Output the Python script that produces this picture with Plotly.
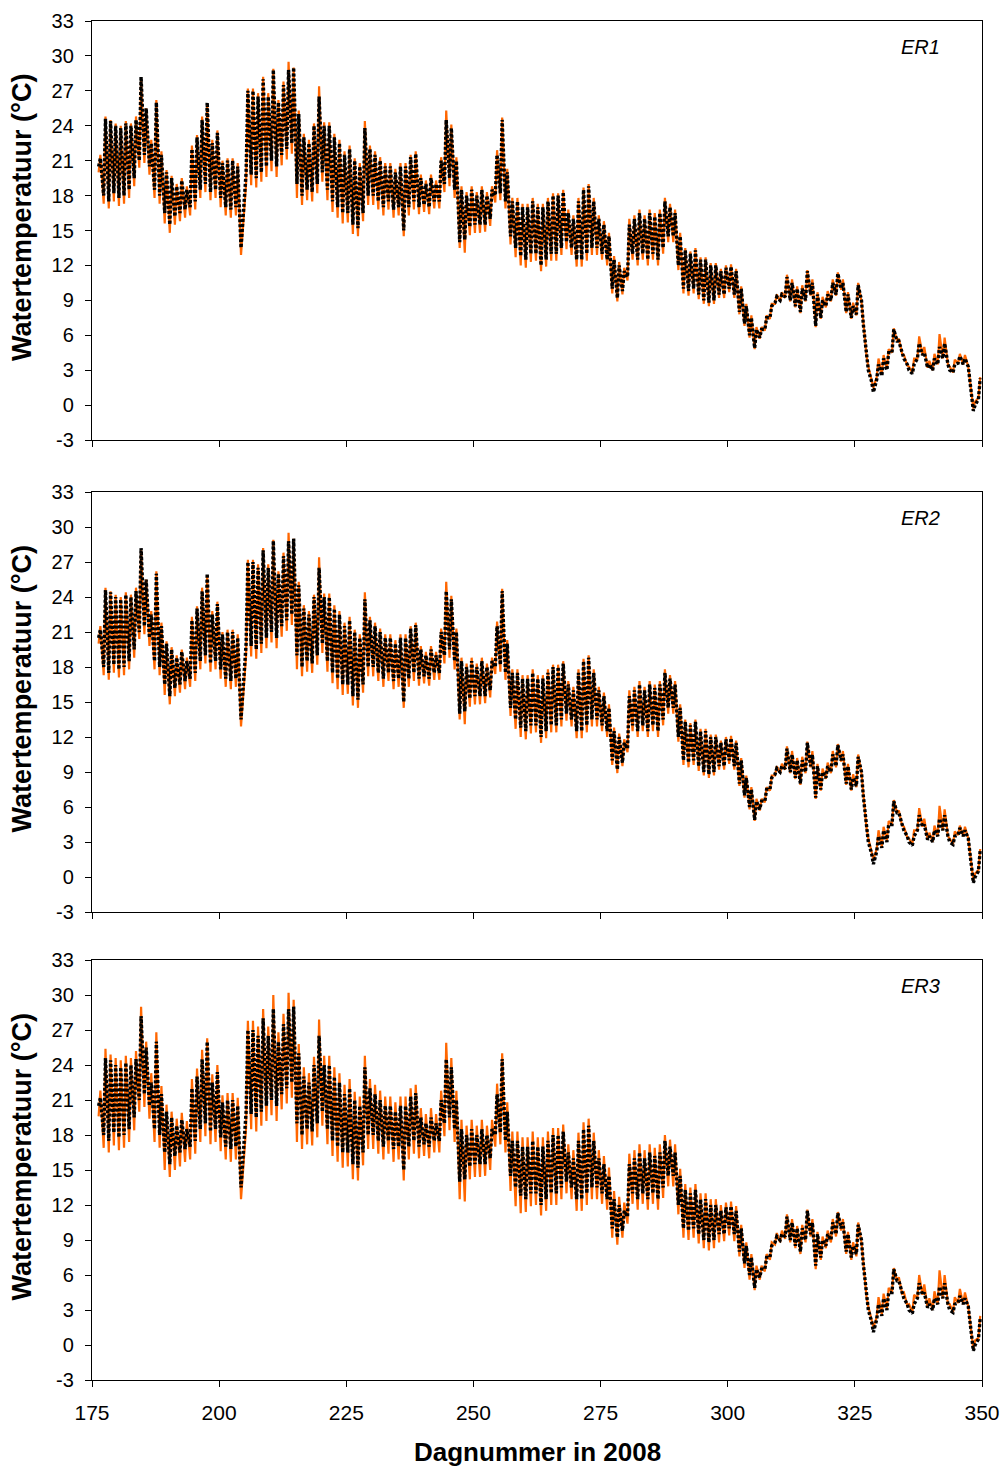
import plotly.graph_objects as go

# Day numbers (each day has an early (low) and a late (afternoon) reading)
days = list(range(176, 350))

# Black dotted series (shared look in all panels), early / late readings per day
black_am = [20.5, 18.0, 17.5, 18.2, 17.8, 18.0, 18.5, 19.5, 21.0, 21.5,
            20.5, 18.5, 18.0, 16.5, 15.5, 16.2, 16.5, 16.8, 17.0, 17.5,
            18.5, 19.0, 18.3, 18.5, 17.8, 17.0, 16.8, 17.0, 13.5, 20.0,
            19.8, 19.5, 20.0, 20.5, 21.0, 20.5, 21.5, 22.0, 22.5, 19.0,
            18.0, 18.5, 18.3, 19.0, 20.0, 18.5, 17.5, 17.0, 16.5, 16.5,
            15.5, 15.2, 16.5, 18.0, 18.0, 17.5, 17.0, 17.5, 16.8, 17.0,
            15.0, 17.0, 17.5, 17.0, 17.2, 17.0, 17.5, 17.5, 19.0, 19.5,
            18.5, 14.0, 14.2, 15.3, 15.5, 15.5, 15.5, 16.0, 18.0, 18.2,
            17.5, 14.5, 13.5, 12.8, 12.5, 13.0, 13.0, 12.0, 12.5, 13.0,
            13.0, 13.5, 14.0, 13.5, 12.5, 12.5, 13.0, 13.5, 13.5, 13.0,
            12.5, 10.0, 9.2, 9.8, 11.0, 13.0, 12.5, 13.0, 12.5, 13.0,
            12.5, 13.5, 14.5, 14.5, 12.0, 10.0, 9.8, 10.0, 9.5, 9.0,
            8.8, 9.0, 9.5, 9.5, 10.0, 9.5, 8.0, 7.0, 6.0, 4.9,
            5.8, 6.5, 7.5, 8.8, 9.0, 9.3, 9.0, 8.5, 8.0, 9.0,
            9.5, 6.8, 7.5, 8.5, 9.0, 9.5, 10.0, 8.0, 7.5, 7.8,
            9.0, 4.0, 2.0, 2.2, 2.5, 3.0, 4.5, 5.5, 4.5, 3.5,
            2.7, 4.0, 4.3, 3.2, 3.0, 3.5, 4.0, 3.5, 2.8, 3.6,
            3.5, 3.3, -0.5, 0.5]
black_pm = [21.2, 24.6, 24.4, 24.0, 23.8, 24.2, 24.0, 24.5, 28.2, 25.5,
            22.5, 26.0, 21.5, 20.0, 19.5, 18.8, 19.3, 18.5, 22.0, 23.0,
            24.5, 26.0, 22.5, 23.4, 20.8, 21.0, 21.0, 20.5, 15.5, 27.0,
            27.0, 26.5, 28.0, 26.5, 28.8, 26.0, 27.5, 28.8, 29.0, 25.0,
            23.0, 22.5, 24.0, 26.5, 24.0, 24.0, 23.0, 22.5, 21.5, 22.0,
            21.0, 20.5, 23.8, 22.0, 21.5, 21.0, 20.5, 20.5, 20.0, 20.5,
            20.5, 21.3, 21.6, 19.5, 19.0, 19.5, 19.0, 21.0, 24.5, 23.8,
            21.0, 18.5, 18.0, 18.5, 18.0, 18.5, 18.0, 18.5, 21.5, 24.5,
            20.0, 17.5, 17.5, 17.0, 17.0, 17.5, 17.0, 17.0, 17.5, 18.0,
            18.0, 18.3, 16.5, 16.0, 17.5, 18.5, 18.8, 17.5, 16.0, 15.5,
            14.5, 12.5, 12.0, 11.5, 15.5, 16.0, 16.5, 16.0, 16.5, 16.2,
            16.5, 17.5, 17.0, 16.5, 14.5, 13.3, 13.0, 13.3, 12.5, 12.5,
            12.0, 12.0, 11.5, 11.8, 11.9, 11.5, 10.0, 8.5, 7.5, 6.5,
            6.5, 7.5, 8.5, 9.3, 9.5, 11.0, 10.5, 10.0, 10.0, 11.5,
            10.5, 9.5, 9.0, 9.5, 10.5, 11.3, 10.5, 9.5, 8.5, 10.3,
            7.0, 3.0, 1.1, 3.5, 4.0, 4.5, 6.5, 5.5, 4.0, 3.0,
            3.5, 5.3, 4.5, 3.5, 4.0, 5.0, 5.3, 3.0, 3.5, 4.2,
            4.0, 1.8, 0.0, 2.3]

# Orange series, ER1 and ER2
orange_am = [20.0, 17.3, 16.9, 17.5, 17.1, 17.3, 17.8, 18.8, 20.4, 20.8,
             19.8, 17.8, 17.3, 15.6, 14.8, 15.5, 15.8, 16.1, 16.3, 16.8,
             17.8, 18.3, 17.6, 17.8, 17.0, 16.3, 16.1, 16.3, 12.9, 19.0,
             18.9, 18.7, 19.2, 19.6, 20.1, 19.6, 20.6, 21.1, 21.6, 17.8,
             17.2, 17.6, 17.5, 18.2, 19.2, 17.6, 16.6, 16.1, 15.6, 15.7,
             14.7, 14.5, 15.8, 17.2, 17.2, 16.8, 16.3, 16.8, 16.1, 16.3,
             14.5, 16.3, 16.8, 16.4, 16.6, 16.4, 16.9, 16.9, 18.3, 18.8,
             17.8, 13.5, 13.1, 14.6, 14.8, 14.8, 14.9, 15.4, 17.4, 17.6,
             16.9, 13.8, 12.7, 12.0, 11.8, 12.3, 12.4, 11.5, 11.9, 12.4,
             12.4, 12.9, 13.4, 12.9, 11.9, 11.9, 12.4, 12.9, 12.9, 12.5,
             12.0, 9.6, 8.9, 9.5, 10.7, 12.5, 12.0, 12.5, 12.0, 12.5,
             12.0, 13.0, 14.0, 14.0, 11.6, 9.6, 9.4, 9.6, 9.1, 8.7,
             8.5, 8.7, 9.2, 9.2, 9.7, 9.2, 7.8, 6.8, 5.8, 4.8,
             5.7, 6.4, 7.4, 8.7, 8.9, 9.2, 8.9, 8.4, 7.9, 8.9,
             9.4, 6.7, 7.4, 8.4, 8.9, 9.4, 9.9, 7.9, 7.4, 7.7,
             8.9, 4.2, 2.1, 2.4, 2.6, 3.1, 4.5, 5.5, 4.4, 3.4,
             2.8, 4.0, 4.3, 3.2, 3.0, 3.5, 4.0, 3.5, 2.8, 3.6,
             3.5, 3.3, -0.3, 0.6]
orange_pm = [21.5, 24.8, 24.5, 24.2, 24.0, 24.4, 24.2, 24.8, 28.0, 25.5,
             22.8, 26.2, 21.8, 20.2, 19.7, 19.0, 19.5, 18.8, 22.3, 23.2,
             24.8, 25.8, 22.8, 23.6, 21.0, 21.2, 21.2, 20.8, 15.0, 27.2,
             27.2, 26.8, 28.2, 26.8, 28.9, 26.2, 27.8, 29.5, 29.0, 25.3,
             23.3, 22.8, 24.2, 27.4, 24.3, 24.3, 23.3, 22.8, 21.8, 22.3,
             21.2, 20.8, 24.4, 22.3, 21.8, 21.3, 20.8, 20.8, 20.3, 20.8,
             20.8, 21.5, 21.8, 19.8, 19.3, 19.8, 19.3, 21.3, 25.3, 24.1,
             21.3, 18.8, 18.3, 18.8, 18.3, 18.8, 18.3, 18.8, 21.9, 24.7,
             20.3, 17.8, 17.8, 17.3, 17.3, 17.8, 17.3, 17.3, 17.8, 18.2,
             18.2, 18.5, 16.8, 16.3, 17.8, 18.7, 19.0, 17.8, 16.3, 15.8,
             14.8, 12.8, 12.3, 11.8, 16.0, 16.3, 16.8, 16.3, 16.8, 16.5,
             16.8, 17.8, 17.3, 16.8, 14.8, 13.5, 13.2, 13.5, 12.7, 12.7,
             12.2, 12.2, 11.7, 12.0, 12.1, 11.7, 10.2, 8.7, 7.7, 6.7,
             6.7, 7.7, 8.7, 9.5, 9.7, 11.2, 10.8, 10.2, 10.3, 11.6,
             10.8, 9.7, 9.3, 9.8, 10.8, 11.4, 10.8, 9.7, 8.8, 10.5,
             7.2, 3.3, 1.5, 4.0, 4.3, 4.8, 6.6, 5.7, 4.3, 3.3,
             4.0, 5.9, 5.0, 3.8, 4.4, 6.1, 5.8, 3.3, 3.9, 4.4,
             4.3, 2.0, 0.3, 2.4]

# Orange series, ER3
orange3_am = [19.6, 16.9, 16.5, 17.1, 16.7, 16.9, 17.4, 18.4, 20.0, 20.4,
              19.4, 17.4, 16.9, 15.0, 14.4, 15.0, 15.3, 15.7, 15.9, 16.4,
              17.4, 17.9, 17.2, 17.4, 16.6, 15.9, 15.7, 15.9, 12.5, 18.6,
              18.5, 18.3, 18.8, 19.2, 19.7, 19.2, 20.2, 20.7, 21.2, 17.4,
              16.8, 17.2, 17.1, 17.8, 18.8, 17.2, 16.2, 15.7, 15.2, 15.3,
              14.2, 14.1, 15.4, 16.8, 16.8, 16.4, 15.9, 16.4, 15.7, 15.9,
              14.1, 15.9, 16.4, 16.0, 16.2, 16.0, 16.5, 16.5, 17.9, 18.4,
              17.4, 12.5, 12.3, 14.2, 14.4, 14.4, 14.5, 15.0, 17.0, 17.2,
              16.5, 13.2, 11.9, 11.3, 11.4, 11.9, 12.0, 11.1, 11.5, 12.0,
              12.0, 12.5, 13.0, 12.5, 11.5, 11.5, 12.0, 12.5, 12.5, 12.1,
              11.6, 9.2, 8.6, 9.2, 10.4, 12.1, 11.6, 12.1, 11.6, 12.1,
              11.6, 12.6, 13.6, 13.6, 11.2, 9.2, 9.0, 9.2, 8.7, 8.3,
              8.1, 8.3, 8.8, 8.9, 9.4, 8.9, 7.6, 6.6, 5.6, 4.7,
              5.6, 6.3, 7.3, 8.6, 8.8, 9.1, 8.8, 8.3, 7.8, 8.8,
              9.3, 6.5, 7.3, 8.3, 8.8, 9.3, 9.8, 7.8, 7.3, 7.6,
              8.8, 4.1, 2.0, 2.4, 2.6, 3.1, 4.5, 5.5, 4.4, 3.4,
              2.8, 4.0, 4.3, 3.2, 3.0, 3.5, 4.0, 3.5, 2.8, 3.6,
              3.5, 3.3, -0.4, 0.6]
orange3_pm = [21.8, 25.4, 24.9, 24.6, 24.4, 24.8, 24.6, 25.2, 29.0, 26.0,
              23.3, 26.8, 22.2, 20.6, 20.0, 19.4, 19.9, 19.2, 22.8, 23.7,
              25.3, 26.3, 23.2, 24.0, 21.4, 21.6, 21.6, 21.2, 14.8, 27.8,
              27.8, 27.3, 28.8, 27.3, 30.0, 26.8, 28.4, 30.2, 29.6, 25.8,
              23.8, 23.3, 24.7, 27.9, 24.8, 24.8, 23.8, 23.3, 22.3, 22.8,
              21.7, 21.3, 24.8, 22.8, 22.3, 21.8, 21.3, 21.3, 20.8, 21.3,
              21.3, 22.0, 22.3, 20.3, 19.8, 20.3, 19.8, 21.8, 25.9, 24.6,
              21.8, 19.3, 18.8, 19.3, 18.8, 19.3, 18.8, 19.3, 22.4, 25.0,
              20.8, 18.3, 18.3, 17.8, 17.8, 18.3, 17.8, 17.8, 18.3, 18.6,
              18.6, 18.9, 17.2, 16.7, 18.2, 19.1, 19.4, 18.2, 16.7, 16.2,
              15.2, 13.2, 12.7, 12.2, 16.4, 16.7, 17.2, 16.7, 17.2, 16.9,
              17.2, 18.0, 17.6, 17.2, 15.1, 13.8, 13.5, 13.8, 13.0, 13.0,
              12.5, 12.5, 12.0, 12.2, 12.3, 11.9, 10.3, 8.8, 7.8, 6.8,
              6.8, 7.8, 8.8, 9.6, 9.8, 11.2, 10.8, 10.2, 10.3, 11.6,
              10.8, 9.7, 9.3, 9.8, 10.8, 11.4, 10.8, 9.7, 8.8, 10.5,
              7.2, 3.3, 1.5, 4.1, 4.4, 4.9, 6.6, 5.8, 4.5, 3.5,
              4.3, 6.0, 5.2, 4.0, 4.6, 6.4, 6.0, 3.5, 4.1, 4.8,
              4.5, 2.1, 0.4, 2.5]

panel_names = ["ER1", "ER2", "ER3"]
y_ticks = [-3, 0, 3, 6, 9, 12, 15, 18, 21, 24, 27, 30, 33]
y_tick_text = ["-3", "0", "3", "6", "9", "12", "15", "18", "21", "24", "27", "30", "33"]
x_ticks = [175, 200, 225, 250, 275, 300, 325, 350]
x_title = "Dagnummer in 2008"
y_title = "Watertemperatuur (°C)"

ORANGE = "#FF6600"
FONT = "Liberation Sans, Arial, sans-serif"


def interleave(am, pm):
    xs, ys = [], []
    for d, a, p in zip(days, am, pm):
        xs += [d + 0.3, d + 0.65]
        ys += [a, p]
    return xs, ys


panel_series = [
    (orange_am, orange_pm),
    (orange_am, orange_pm),
    (orange3_am, orange3_pm),
]

W, H = 1006, 1468
ml, mr, mt, mb = 92, 24, 21, 88
ph = H - mt - mb
# pixel tops/bottoms of each panel
panel_px = [(21, 440), (492, 912), (960, 1380)]
domains = [[(H - mb - b) / ph, (H - mb - t) / ph] for t, b in panel_px]

fig = go.Figure()
for i in range(3):
    xa = "x" if i == 0 else f"x{i+1}"
    ya = "y" if i == 0 else f"y{i+1}"
    oam, opm = panel_series[i]
    xo, yo = interleave(oam, opm)
    xb, yb = interleave(black_am, black_pm)
    fig.add_trace(go.Scatter(x=xo, y=yo, mode="lines",
                             line=dict(color=ORANGE, width=2.2),
                             xaxis=xa, yaxis=ya, showlegend=False,
                             hoverinfo="skip"))
    fig.add_trace(go.Scatter(x=xb, y=yb, mode="lines",
                             line=dict(color="black", width=3.4, dash="3px,2px"),
                             xaxis=xa, yaxis=ya, showlegend=False,
                             hoverinfo="skip"))
    xkey = "xaxis" if i == 0 else f"xaxis{i+1}"
    ykey = "yaxis" if i == 0 else f"yaxis{i+1}"
    fig.layout[xkey] = dict(
        domain=[0, 1], range=[175, 350], tickvals=x_ticks,
        ticks="outside", ticklen=6, tickcolor="black",
        showline=True, linecolor="black", linewidth=1.3, mirror=True,
        showgrid=False, zeroline=False,
        showticklabels=(i == 2), anchor=ya,
        tickfont=dict(family=FONT, size=21, color="black"),
        ticklabelstandoff=8,
    )
    fig.layout[ykey] = dict(
        domain=domains[i], range=[-3, 33], tickvals=y_ticks, ticktext=y_tick_text,
        ticks="outside", ticklen=6, tickcolor="black",
        showline=True, linecolor="black", linewidth=1.3, mirror=True,
        showgrid=False, zeroline=False, anchor=xa,
        tickfont=dict(family=FONT, size=20, color="black"),
        ticklabelstandoff=7,
    )
    # panel label
    fig.add_annotation(text=f"<i>{panel_names[i]}</i>", xref=f"{xa} domain",
                       yref=f"{ya} domain", x=(942 - ml) / (W - ml - mr),
                       y=1 - 26 / (panel_px[i][1] - panel_px[i][0]),
                       xanchor="right", yanchor="middle", showarrow=False,
                       font=dict(family=FONT, size=20, color="black"))
    # y title
    fig.add_annotation(text=f"<b>{y_title}</b>", xref="paper", yref=f"{ya} domain",
                       x=(22 - ml) / (W - ml - mr), y=0.53, textangle=-90,
                       xanchor="center", yanchor="middle", showarrow=False,
                       font=dict(family=FONT, size=27, color="black"))

fig.add_annotation(text=f"<b>{x_title}</b>", xref="paper", yref="paper",
                   x=(537 - ml) / (W - ml - mr), y=(H - mb - 1452) / ph,
                   xanchor="center", yanchor="middle", showarrow=False,
                   font=dict(family=FONT, size=26, color="black"))

fig.update_layout(width=W, height=H, margin=dict(l=ml, r=mr, t=mt, b=mb, autoexpand=False),
                  paper_bgcolor="white", plot_bgcolor="white",
                  font=dict(family=FONT, color="black"))

fig.write_html("out.html", config={"displayModeBar": False})

# remove the browser's default page margin so the figure sits at the top-left corner
with open("out.html", "r", encoding="utf-8") as f:
    html = f.read()
html = html.replace("<head>", "<head><style>html,body{margin:0;padding:0;}</style>", 1)
with open("out.html", "w", encoding="utf-8") as f:
    f.write(html)
